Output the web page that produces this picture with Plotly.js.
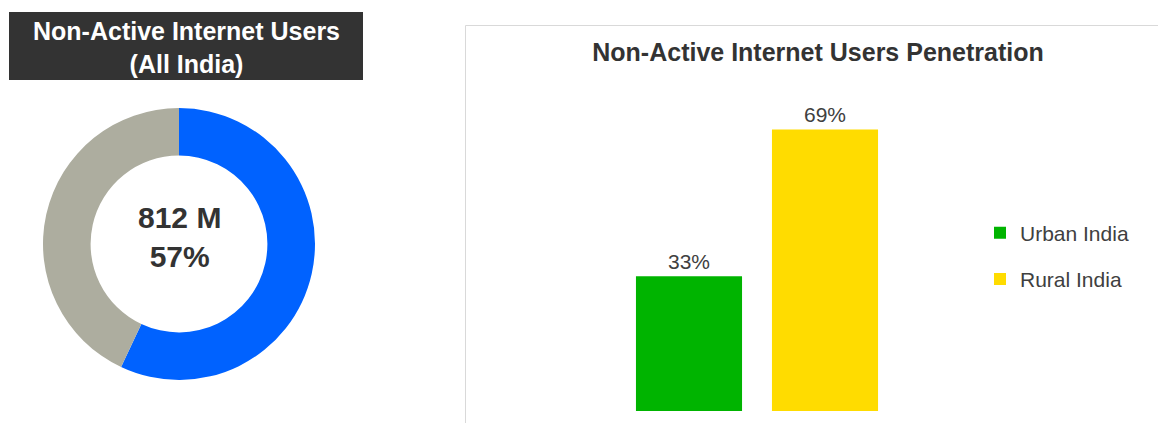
<!DOCTYPE html>
<html>
<head>
<meta charset="utf-8">
<script src="https://cdn.plot.ly/plotly-3.0.1.min.js"></script>
<style>html,body{margin:0;padding:0;background:#fff;}#chart{width:1158px;height:423px;}</style>
</head>
<body>
<div id="chart"></div>
<script>
// Donut data
const donutLabels = ['Non-Active Internet Users', 'Active Internet Users'];
const donutValues = [57, 43];
const donutCenterText = ['812 M', '57%'];

// Bar data
const barCategories = ['Non-Active Internet Users Penetration'];
const seriesNames = ['Urban India', 'Rural India'];
const urbanValues = [33];
const ruralValues = [69];

const W = 1158, H = 423;
const px = x => x / W;
const py = y => 1 - y / H;

const font = 'Liberation Sans, Arial, sans-serif';

const traces = [
  {
    type: 'pie',
    labels: donutLabels,
    values: donutValues,
    hole: 0.65,
    sort: false,
    direction: 'clockwise',
    rotation: 0,
    textinfo: 'none',
    hoverinfo: 'label+percent',
    marker: {colors: ['#0062FF', '#ADAD9F'], line: {width: 0}},
    domain: {x: [px(43), px(315)], y: [py(380), py(108)]},
    showlegend: false
  },
  {
    type: 'bar',
    name: seriesNames[0],
    x: barCategories,
    y: urbanValues,
    text: urbanValues.map(v => v + '%'),
    textposition: 'outside',
    cliponaxis: false,
    textfont: {family: font, size: 21, color: '#404040'},
    marker: {color: '#00B400'},
    legendgroup: 'u'
  },
  {
    type: 'bar',
    name: seriesNames[1],
    x: barCategories,
    y: ruralValues,
    text: ruralValues.map(v => v + '%'),
    textposition: 'outside',
    cliponaxis: false,
    textfont: {family: font, size: 21, color: '#404040'},
    marker: {color: '#FFDC00'},
    legendgroup: 'r'
  }
];

const layout = {
  width: W, height: H,
  margin: {l: 0, r: 0, t: 0, b: 0},
  paper_bgcolor: '#ffffff',
  plot_bgcolor: 'rgba(0,0,0,0)',
  font: {family: font, color: '#404040'},
  barmode: 'group',
  bargap: 0.343,
  bargroupgap: 0.22,
  title: {
    text: '<b>Non-Active Internet Users Penetration</b>',
    font: {family: font, size: 25, color: '#333333'},
    x: px(818), xanchor: 'center',
    y: py(52), yanchor: 'middle',
    xref: 'paper', yref: 'paper'
  },
  xaxis: {
    domain: [px(550), px(964)],
    visible: false,
    fixedrange: true
  },
  yaxis: {
    domain: [py(411), py(105)],
    range: [0, 75],
    visible: false,
    fixedrange: true
  },
  showlegend: true,
  legend: {
    x: px(980), xanchor: 'left',
    y: py(256), yanchor: 'middle',
    traceorder: 'grouped',
    tracegroupgap: 16,
    font: {family: font, size: 21, color: '#404040'},
    bgcolor: 'rgba(0,0,0,0)',
    itemwidth: 30
  },
  shapes: [
    {type: 'rect', xref: 'paper', yref: 'paper',
     x0: px(9), x1: px(363), y0: py(80), y1: py(12),
     fillcolor: '#333333', line: {width: 0}, layer: 'below'},
    {type: 'rect', xref: 'paper', yref: 'paper',
     x0: px(465.5), x1: 1.01, y0: -0.01, y1: py(25.5),
     fillcolor: 'rgba(0,0,0,0)', line: {color: '#D9D9D9', width: 1}, layer: 'below'}
  ],
  annotations: [
    {xref: 'paper', yref: 'paper', x: px(186), y: py(47),
     xanchor: 'center', yanchor: 'middle', showarrow: false,
     text: '<b>Non-Active Internet Users<br>(All India)</b>',
     font: {family: font, size: 25, color: '#ffffff'}},
    {xref: 'paper', yref: 'paper', x: px(179), y: py(237),
     xanchor: 'center', yanchor: 'middle', showarrow: false,
     text: '<b>' + donutCenterText.join('<br>') + '</b>',
     font: {family: font, size: 30, color: '#333333'}}
  ]
};

Plotly.newPlot('chart', traces, layout, {displayModeBar: false, staticPlot: true});
</script>
</body>
</html>
